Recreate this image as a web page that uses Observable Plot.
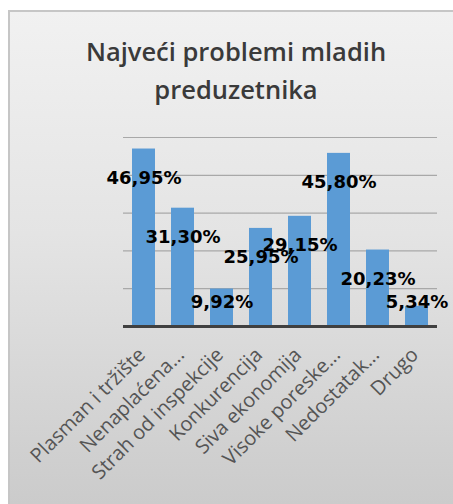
<!DOCTYPE html>
<html>
<head>
<meta charset="utf-8">
<script src="https://cdn.jsdelivr.net/npm/d3@7"></script>
<script src="https://cdn.jsdelivr.net/npm/@observablehq/plot@0.6"></script>
<style>
  html, body { margin: 0; padding: 0; background: #ffffff; }
  body { width: 453px; height: 504px; position: relative; overflow: hidden; }
  #panel {
    position: absolute; left: 8px; top: 10px; width: 445px; height: 494px;
    box-sizing: border-box;
    border-top: 2px solid #c6c6c6; border-left: 2px solid #c6c6c6;
    background: linear-gradient(to bottom, #f1f1f1 0%, #e4e4e4 45%, #cbcbcb 100%);
  }
  #title {
    position: absolute; left: 0; top: 32px; width: 472px;
    text-align: center; font-family: "Open Sans", sans-serif; font-weight: 600;
    font-size: 25.5px; line-height: 38px; color: #3a3a3a;
  }
  #chart { position: absolute; left: 0; top: 120px; }
</style>
</head>
<body>
<div id="panel"></div>
<div id="title">Najveći problemi mladih<br>preduzetnika</div>
<div id="chart"></div>
<script>
const categories = ["Plasman i tržište", "Nenaplaćena...", "Strah od inspekcije", "Konkurencija", "Siva ekonomija", "Visoke poreske...", "Nedostatak...", "Drugo"];
const values = [46.95, 31.30, 9.92, 25.95, 29.15, 45.80, 20.23, 5.34];
const labels = ["46,95%", "31,30%", "9,92%", "25,95%", "29,15%", "45,80%", "20,23%", "5,34%"];
const gridTicks = [10, 20, 30, 40, 50];

const data = categories.map((c, i) => ({category: c, value: values[i], label: labels[i]}));

const chart = Plot.plot({
  width: 453,
  height: 384,
  marginLeft: 123,
  marginRight: 16,
  marginTop: 17,
  marginBottom: 178,
  style: {background: "transparent", fontFamily: "'Open Sans', sans-serif", overflow: "visible"},
  x: {domain: categories, paddingInner: 0.414, paddingOuter: 0.207, label: null},
  y: {domain: [0, 50], axis: null},
  marks: [
    Plot.ruleY(gridTicks, {stroke: "#a8a8a8", strokeWidth: 1.2}),
    Plot.barY(data, {x: "category", y: "value", fill: "#5b9bd5"}),
    Plot.ruleY([0], {stroke: "#404040", strokeWidth: 3}),
    Plot.axisX({tickRotate: -45, tickSize: 0, tickPadding: 25, dx: -2, fontSize: 20, fill: "#555555", label: null}),
    Plot.text(data, {x: "category", y: d => Math.max(d.value, 14), dy: 29, text: "label",
      fontSize: 18, fontWeight: "bold", fill: "#000000", fontFamily: "'DejaVu Sans', sans-serif"})
  ]
});
document.getElementById("chart").appendChild(chart);
</script>
</body>
</html>
